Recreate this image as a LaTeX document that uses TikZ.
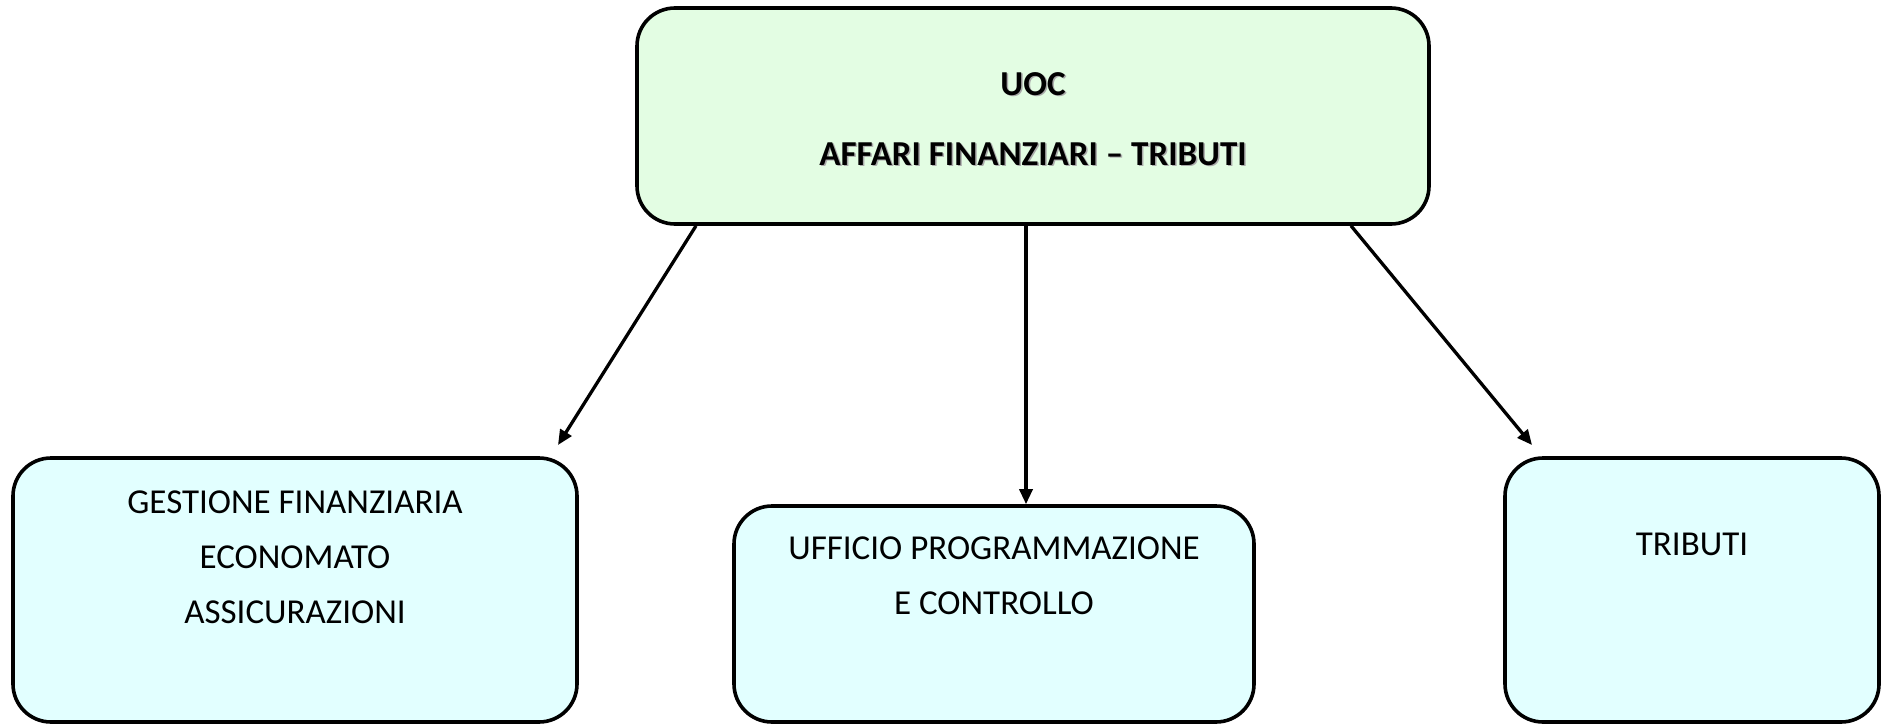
\documentclass[tikz,border=0pt]{standalone}
\usepackage{fontspec}
\setmainfont{Carlito}
\usetikzlibrary{arrows.meta}
\definecolor{topfill}{RGB}{227,253,227}
\definecolor{subfill}{RGB}{226,255,255}
\definecolor{shadowgray}{RGB}{170,170,170}
\tikzset{
  box/.style={draw=black, line width=3.6pt, rounded corners=38pt, inner sep=0pt},
  topbox/.style={box, fill=topfill},
  subbox/.style={box, fill=subfill},
  lbl/.style={align=center, inner sep=0pt, font=\fontsize{35}{55}\selectfont},
  toplbl/.style={align=center, inner sep=0pt, font=\fontsize{35}{70}\selectfont\bfseries},
  conn/.style={line width=3.3pt, -{Triangle[length=15pt,width=13pt]}}
}
\begin{document}
\begin{tikzpicture}[x=1pt,y=-1pt]
\useasboundingbox (0,0) rectangle (1881,725);
% boxes
\node[topbox, minimum width=792pt, minimum height=216pt] (top) at (1033,116) {};
\node[subbox, minimum width=564pt, minimum height=264pt] (left) at (295,590) {};
\node[subbox, minimum width=520pt, minimum height=216pt] (mid) at (994,614) {};
\node[subbox, minimum width=374pt, minimum height=264pt] (right) at (1692,590) {};
% texts
\node[toplbl, text=shadowgray] (topshadow) at (1034.5,120.5) {UOC\\AFFARI FINANZIARI -- TRIBUTI};
\node[toplbl] (toptext) at (1033,119) {UOC\\AFFARI FINANZIARI -- TRIBUTI};
\node[lbl] (lefttext) at (295,557) {GESTIONE FINANZIARIA\\ECONOMATO\\ASSICURAZIONI};
\node[lbl] (midtext) at (994,576) {UFFICIO PROGRAMMAZIONE\\E CONTROLLO};
\node[lbl] (righttext) at (1692,544) {TRIBUTI};
% connector end points
\coordinate (a1s) at (top.south west -| 696,0);
\coordinate (a1e) at (558,445);
\coordinate (a2s) at (top.south west -| 1026,0);
\coordinate (a2e) at (mid.north west -| 1026,0);
\coordinate (a3s) at (top.south west -| 1351,0);
\coordinate (a3e) at (1532,445);
\draw[conn] (a1s) -- (a1e);
\draw[conn] (a2s) -- (a2e);
\draw[conn] (a3s) -- (a3e);
\end{tikzpicture}
\end{document}
